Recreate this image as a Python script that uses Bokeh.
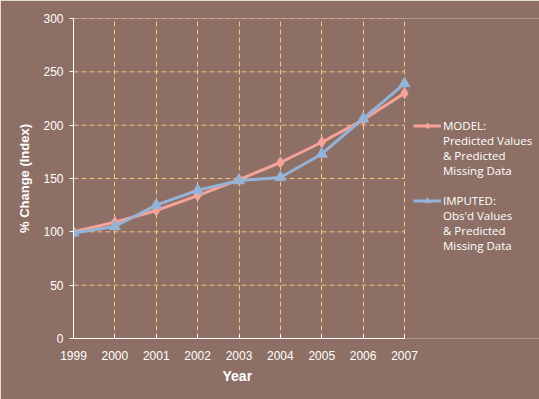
from bokeh.plotting import figure
from bokeh.models import Legend, LegendItem, FixedTicker, Title
from bokeh.embed import file_html
from bokeh.resources import INLINE

years = [1999, 2000, 2001, 2002, 2003, 2004, 2005, 2006, 2007]
model = [100, 109, 120, 134, 149, 165, 184, 205, 230]
imputed = [99, 105, 125, 139, 148, 151, 173, 206, 239]
y_ticks = [0, 50, 100, 150, 200, 250, 300]
legend_model = ["MODEL:", "Predicted Values", "& Predicted", "Missing Data"]
legend_imputed = ["IMPUTED:", "Obs'd Values", "& Predicted", "Missing Data"]

BG = "#8D6F65"
PINK = "#F4A398"
BLUE = "#95B3D7"
GRID = "#F7C17E"

# frame extended to the right so the legend can sit inside it
p = figure(width=539, height=399, output_backend="svg", toolbar_location=None,
           x_range=(1999, 1999 + 8 * 466 / 331), y_range=(0, 300),
           min_border_left=73, min_border_right=0, min_border_top=18, min_border_bottom=61)
p.background_fill_color = BG
p.border_fill_color = BG
p.outline_line_color = None

p.xaxis.ticker = FixedTicker(ticks=years)
p.yaxis.ticker = FixedTicker(ticks=y_ticks)
p.xaxis.bounds = (years[0], years[-1])
for ax in (p.xaxis[0], p.yaxis[0]):
    ax.axis_line_color = "white"
    ax.axis_line_width = 1
    ax.major_tick_line_color = "white"
    ax.minor_tick_line_color = None
    ax.major_label_text_color = "white"
    ax.major_label_text_font = "Liberation Sans"
    ax.major_label_text_font_size = "12px"
    ax.axis_label_text_color = "white"
    ax.axis_label_text_font = "Liberation Sans"
    ax.axis_label_text_font_style = "bold"
p.xaxis.major_tick_in = 4
p.xaxis.major_tick_out = 0
p.yaxis.major_tick_in = 0
p.yaxis.major_tick_out = 4
p.yaxis.axis_label = "% Change (Index)"
p.yaxis.axis_label_text_font_size = "13px"
p.xaxis.major_label_standoff = 12
p.yaxis.major_label_standoff = 6
p.yaxis.axis_label_standoff = 8

# "Year" centred under the data span (1999-2007), not under the whole frame
year_title = Title(text="Year", align="left", offset=149, text_color="white",
                   text_font="Liberation Sans", text_font_style="bold",
                   text_font_size="14px", standoff=7)
p.add_layout(year_title, "below")

p.xgrid.grid_line_color = GRID
p.xgrid.grid_line_dash = "5 3"
p.xgrid.grid_line_width = 1
p.ygrid.grid_line_color = None
p.segment(x0=years[0], x1=years[-1], y0=y_ticks[1:], y1=y_ticks[1:],
          line_color=GRID, line_dash="5 3", line_width=1)

l1 = p.line(years, model, line_color=PINK, line_width=3)
m1 = p.scatter(years, model, marker="diamond", size=11, fill_color=PINK, line_color=PINK)
l2 = p.line(years, imputed, line_color=BLUE, line_width=3)
m2 = p.scatter(years, imputed, marker="triangle", size=11, fill_color=BLUE, line_color=BLUE)
blank = p.line([], [], line_alpha=0)

items = [LegendItem(label=legend_model[0], renderers=[l1, m1])]
items += [LegendItem(label=t, renderers=[blank]) for t in legend_model[1:]]
items += [LegendItem(label=" ", renderers=[blank])]
items += [LegendItem(label=legend_imputed[0], renderers=[l2, m2])]
items += [LegendItem(label=t, renderers=[blank]) for t in legend_imputed[1:]]

legend = Legend(items=items, location=(340, 85))
legend.background_fill_alpha = 0
legend.border_line_color = None
legend.label_text_color = "white"
legend.label_text_font = "Open Sans"
legend.label_text_font_size = "11.5px"
legend.glyph_width = 28
legend.glyph_height = 15
legend.label_height = 15
legend.spacing = 0
legend.margin = 0
legend.padding = 0
legend.label_standoff = 2
p.add_layout(legend, "center")

open("out.html", "w").write(file_html(p, INLINE))
